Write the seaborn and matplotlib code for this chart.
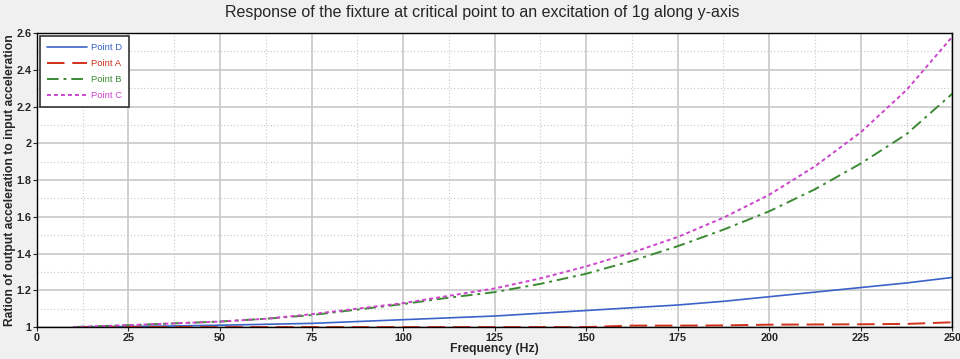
import matplotlib
matplotlib.use("Agg")
import matplotlib.pyplot as plt
from matplotlib.ticker import MultipleLocator
import seaborn as sns

# frequency points (Hz)
freq = [10, 25, 37.5, 50, 62.5, 75, 87.5, 100, 112.5, 125, 137.5, 150,
        162.5, 175, 187.5, 200, 212.5, 225, 237.5, 250]

point_d = [1.0, 1.003, 1.006, 1.01, 1.015, 1.02, 1.03, 1.04, 1.05, 1.06, 1.075, 1.09,
           1.105, 1.12, 1.14, 1.165, 1.19, 1.215, 1.24, 1.27]
point_a = [1.0, 1.0, 1.0, 1.0, 1.0, 1.0, 1.0, 1.0, 1.0, 1.0, 1.0, 1.0,
           1.008, 1.008, 1.009, 1.013, 1.014, 1.015, 1.017, 1.026]
point_b = [1.0, 1.01, 1.02, 1.03, 1.045, 1.065, 1.095, 1.125, 1.16, 1.19, 1.235, 1.29,
           1.36, 1.44, 1.53, 1.63, 1.75, 1.89, 2.05, 2.27]
point_c = [1.0, 1.01, 1.02, 1.03, 1.045, 1.07, 1.10, 1.13, 1.17, 1.21, 1.265, 1.33,
           1.405, 1.49, 1.595, 1.72, 1.875, 2.06, 2.29, 2.58]

y_ticks = [1, 1.2, 1.4, 1.6, 1.8, 2, 2.2, 2.4, 2.6]
y_tick_labels = ["1", "1.2", "1.4", "1.6", "1.8", "2", "2.2", "2.4", "2.6"]
x_ticks = [0, 25, 50, 75, 100, 125, 150, 175, 200, 225, 250]

sns.set_style("white")
plt.rcParams['font.family'] = ['Liberation Sans', 'DejaVu Sans']

fig = plt.figure(figsize=(9.6, 3.59), dpi=100, facecolor='#f0f0f0')
ax = fig.add_axes([0.0385, 0.089, 0.9535, 0.819])
ax.set_facecolor('white')

sns.lineplot(x=freq, y=point_d, ax=ax, color='#3a62c8', lw=1.2, label='Point D')
sns.lineplot(x=freq, y=point_a, ax=ax, color='#d0301c', lw=1.4,
             linestyle=(0, (9, 4)), label='Point A')
sns.lineplot(x=freq, y=point_b, ax=ax, color='#3c8a34', lw=1.4,
             linestyle=(0, (6, 2.5, 1.5, 2.5)), label='Point B')
sns.lineplot(x=freq, y=point_c, ax=ax, color='#cc44cc', lw=1.4,
             linestyle=(0, (2, 1.6)), label='Point C')

ax.set_xlim(0, 250)
ax.set_ylim(1, 2.6)
ax.set_xticks(x_ticks)
ax.set_xticklabels([str(t) for t in x_ticks])
ax.set_yticks(y_ticks)
ax.set_yticklabels(y_tick_labels)
ax.xaxis.set_minor_locator(MultipleLocator(12.5))
ax.yaxis.set_minor_locator(MultipleLocator(0.1))
ax.grid(which='major', color='#c8c8c8', lw=1.2, ls='-')
ax.grid(which='minor', color='#c8c8c8', lw=0.8, ls=(0, (1, 2)))
ax.tick_params(which='major', direction='out', length=3, width=0.8,
               labelsize=7.8, pad=1, left=True, bottom=True)
ax.tick_params(which='minor', length=0)
for lab in ax.get_xticklabels() + ax.get_yticklabels():
    lab.set_fontweight('bold')
for s in ax.spines.values():
    s.set_color('black')
    s.set_linewidth(1.0)

ax.set_xlabel('Frequency (Hz)', fontsize=8.8, fontweight='bold', labelpad=0)
ax.set_ylabel('Ration of output acceleration to input acceleration', fontsize=8.7,
              fontweight='bold', labelpad=0)
fig.suptitle('Response of the fixture at critical point to an excitation of 1g along y-axis',
             fontsize=11.5, x=0.502, y=0.985)

leg = ax.legend(loc='upper left', fontsize=6.8, frameon=True, fancybox=False,
                edgecolor='#333333', framealpha=1, labelcolor='linecolor',
                handlelength=4.3, borderaxespad=0.35, borderpad=0.7,
                labelspacing=0.75, handletextpad=0.4)
leg.get_frame().set_linewidth(1.2)

fig.savefig('out.png', dpi=100, facecolor=fig.get_facecolor())
